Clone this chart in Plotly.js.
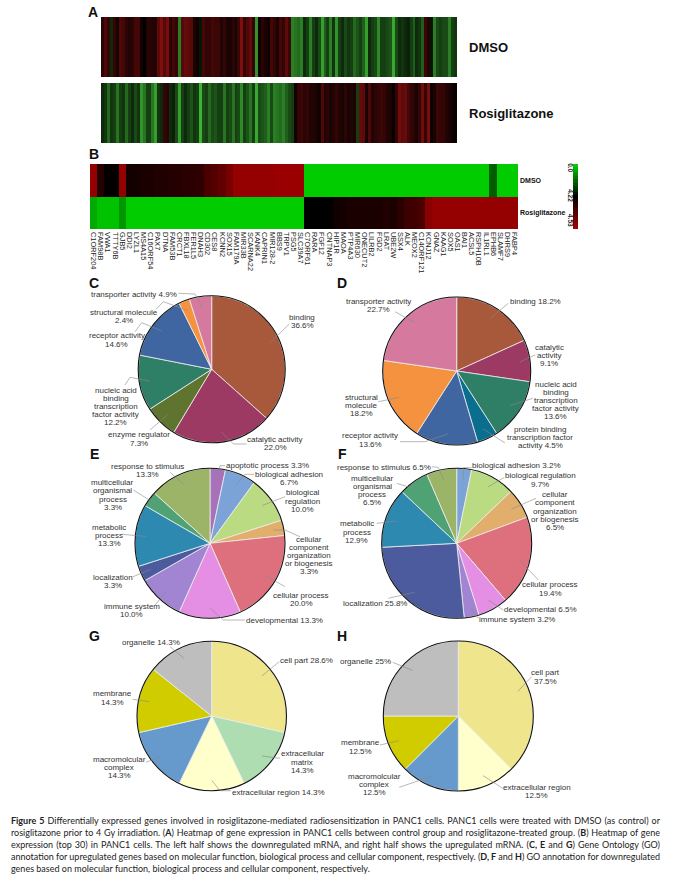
<!DOCTYPE html>
<html><head><meta charset="utf-8">
<script src="https://cdn.plot.ly/plotly-3.0.1.min.js"></script>
<style>html,body{margin:0;padding:0;background:#fff}#chart{width:675px;height:880px}</style>
</head><body><div id="chart"></div>
<script>
const W = 675, H = 880;
const FONT = 'Liberation Sans, Arial, sans-serif';

// ---- Panel A values (expression, green negative, red positive) ----
const heatA_dmso = [.25,.45,.3,-.2,.3,.15,.45,.4,.25,.2,.25,.4,.4,.1,0,.2,.25,.2,.2,.55,.75,.5,.7,.25,.4,.3,-.6,.5,.6,.55,.5,.15,.1,-.1,.4,.3,.3,.4,.35,.35,.2,.3,.15,.15,.25,.15,.35,.75,.3,.45,.6,.3,-.7,.1,.25,.15,.1,.4,.3,.15,.4,.3,.55,.35,-.6,
 -.55,-.5,-.6,-.2,-.3,-.6,-.3,-.2,-.35,-.75,-.45,-.3,-.6,-.25,-.7,-.3,-.2,-.35,-.25,-.3,-.5,-.4,-.3,-.45,-.75,-.2,-.3,-.35,-.65,-.3,-.3,-.35,-.4,-.8,-.35,-.2,-.25,-.2,-.15,-.3,-.45,-.2,-.25,-.45,.35,.2,-.1,-.6,-.35,-.3,-.35,-.35,-.6,-.3,-.25];
const heatA_rosi = [-.2,-.25,-.5,-.25,-.3,-.55,-.3,-.25,-.5,-.3,-.2,-.35,-.25,-.7,-.55,-.3,-.3,-.55,-.75,-.25,-.2,.3,.25,-.2,-.15,-.35,-.75,-.3,-.2,-.3,-.4,-.25,-.3,-.85,-.35,-.3,-.5,-.35,-.4,-.3,-.3,-.55,-.3,-.35,-.55,-.3,-.35,-.65,-.3,-.4,-.55,-.3,-.8,-.35,-.4,-.45,-.6,-.35,-.6,-.55,-.5,-.6,-.45,-.35,-.3,
 .1,.3,.35,.25,.3,.2,.2,.15,.1,.45,.2,.25,.15,.2,.3,.2,.15,.25,.15,.2,.15,-.3,.6,.55,.15,.45,.2,.25,.3,.35,.3,.2,.15,.05,.3,.65,.55,.6,.4,.3,.25,.15,.3,.65,.3,.7,.1,.15,.35,.3,.3,.2,.15,.1,.05];

// ---- Panel B values ----
const genes = ["C1ORF204","FAM98B","VWA1","TTTY6B","GJB5","DDI2","LYZL1","MS4A15","C16ORF54","PAX7","DTNA","FAM53B","CRCT1","FBXL18","FER1L5","DNAH3","CD302","CES8","KCNN2","SOX15","FAM179A","MIR33B","SCARNA22","KANK4","CAPRIN1","MIR128-2","BBS9","TRPV1","PSG5","SLC39A7","C7ORF61","RARA","FGF12","CNTNAP3","HIP1R","MAOA","PTP4A3","MIR630","ONECUT2","LILRB2","FGD2","LRAT","UBE2W","SSX4","ALK","MEOX2","C14ORF121","KCNJ12","GNAZ","KAAG1","SOX5","OAS1","BAI1","ACSL5","RSPH10B","IL1RL1","EPHB6","SLAMF7","DHRS9","FABP4"];
const heatB_dmso = [4.5,4.29,4.23,4.23,4.5,4.26,4.26,4.27,4.27,4.28,4.28,4.29,4.29,4.3,4.3,4.31,4.36,4.38,4.4,4.45,4.5,4.5,4.5,4.5,4.5,4.5,4.51,4.51,4.51,4.51,
 0,0,0,0,0,0,0,0,0,0,0,0,0,0,0,0,0,0,0,0,0,0,0,0,0,0,2.3,0,0,0];
const heatB_rosi = [.7,.2,.2,.2,1.1,0,0,0,0,0,0,0,0,0,0,0,0,0,0,0,0,0,0,0,0,0,0,0,0,0,
 4.22,4.22,4.22,4.22,4.25,4.26,4.27,4.27,4.27,4.27,4.27,4.28,4.27,4.3,4.33,4.34,4.36,4.48,4.5,4.5,4.5,4.5,4.5,4.5,4.5,4.5,4.5,4.5,4.5,4.5];
const legendLevels = [0,.42,.84,1.27,1.69,2.11,2.53,2.95,3.38,3.8,4.22,4.25,4.28,4.31,4.34,4.37,4.4,4.43,4.47,4.5,4.53];

// ---- Pie values ----
const pieC_labels = ["binding","catalytic activity","enzyme regulator","nucleic acid binding transcription factor activity","receptor activity","structural molecule","transporter activity"];
const pieC_values = [36.6,22.0,7.3,12.2,14.6,2.4,4.9];
const pieD_labels = ["binding","catalytic activity","nucleic acid binding transcription factor activity","protein binding transcription factor activity","receptor activity","structural molecule","transporter activity"];
const pieD_values = [18.2,9.1,13.6,4.5,13.6,18.2,22.7];
const pieE_labels = ["apoptotic process","biological adhesion","biological regulation","cellular component organization or biogenesis","cellular process","developmental","immune system","localization","metabolic process","multicellular organismal process","response to stimulus"];
const pieE_values = [3.3,6.7,10.0,3.3,20.0,13.3,10.0,3.3,13.3,3.3,13.3];
const pieF_labels = ["biological adhesion","biological regulation","cellular component organization or biogenesis","cellular process","developmental","immune system","localization","metabolic process","multicellular organismal process","response to stimulus"];
const pieF_values = [3.2,9.7,6.5,19.4,6.5,3.2,25.8,12.9,6.5,6.5];
const pieG_labels = ["cell part","extracellular matrix","extracellular region","macromolecular complex","membrane","organelle"];
const pieG_values = [28.6,14.3,14.3,14.3,14.3,14.3];
const pieH_labels = ["cell part","extracellular region","macromolecular complex","membrane","organelle"];
const pieH_values = [37.5,12.5,12.5,12.5,25];

// ---- Pie styling and label layout (pixels on the page) ----
const colC = ["#A8593C","#9C3A64","#5F752F","#2E7F66","#3F66A0","#F59240","#D6799F"];
const colD = ["#A8593C","#9C3A64","#2E7F66","#0A6F8E","#3F66A0","#F59240","#D6799F"];
const colE = ["#A772BA","#7CA3D8","#BBDB82","#E2AE6C","#DE6F7D","#E48EE4","#A285D2","#4C5A9E","#2E89B0","#4FA273","#9CB468"];
const colF = ["#7CA3D8","#BBDB82","#E2AE6C","#DE6F7D","#E48EE4","#A285D2","#4C5A9E","#2E89B0","#4FA273","#9CB468"];
const colG = ["#EEE58C","#ADDDB0","#FFFFCC","#6699CC","#D0CC00","#BEBEBE"];
const colH = ["#EEE58C","#FFFFCC","#6699CC","#D0CC00","#BEBEBE"];

const pies = [
 {v:pieC_values,l:pieC_labels,c:colC,cx:211.7,cy:369.3,r:73.5,
  t:[["binding<br>36.6%",302.3,321.7,[[289.3,324]]],
     ["catalytic activity<br>22.0%",275,443.3,[[233.3,444],[246.7,444]]],
     ["enzyme regulator<br>7.3%",139,439,[[150,430]]],
     ["nucleic acid<br>binding<br>transcription<br>factor activity<br>12.2%",115.7,406.7,[[130,377.3],[125,385]]],
     ["receptor activity<br>14.6%",116.7,340,[[141.7,322.7],[135,331.7]]],
     ["structural molecule<br>2.4%",124,316.7,[[163.3,301.7],[156,309.3]]],
     ["transporter activity 4.9%",134.3,294,[[195,294],[178.3,293.3]]]]},
 {v:pieD_values,l:pieD_labels,c:colD,cx:456.7,cy:371,r:74,
  t:[["binding 18.2%",535.3,301.7,[[508.3,303.3]]],
     ["catalytic<br>activity<br>9.1%",549,355.3,[[535,355]]],
     ["nucleic acid<br>binding<br>transcription<br>factor activity<br>13.6%",555.7,400.3,[[532.7,398.3]]],
     ["protein binding<br>transcription factor<br>activity 4.5%",540,437.3,[[505,443]]],
     ["receptor activity<br>13.6%",370,440,[[425,441.7],[400,441.7]]],
     ["structural<br>molecule<br>18.2%",361.7,405.3,[[378.3,401.7]]],
     ["transporter activity<br>22.7%",378.3,305.7,[[395,311.7]]]]},
 {v:pieE_values,l:pieE_labels,c:colE,cx:210,cy:543.3,r:75,
  t:[["apoptotic process 3.3%",267.7,465.3,[[220,465.7],[225,465.7]]],
     ["biological adhesion<br>6.7%",289.3,478.3,[[245,474.3],[254,474.3]]],
     ["biological<br>regulation<br>10.0%",302.7,501,[[285,496.7]]],
     ["cellular<br>component<br>organization<br>or biogenesis<br>3.3%",309.3,555.7,[[285,530],[300,536.7]]],
     ["cellular process<br>20.0%",301.3,599.7,[[285,586.7]]],
     ["developmental 13.3%",284,620,[[223.3,620],[245,620]]],
     ["immune system<br>10.0%",131.7,610.7,[[155,605]]],
     ["localization<br>3.3%",112.7,581.7,[[133,576.7]]],
     ["metabolic<br>process<br>13.3%",109,535.7,[[121.7,534.3]]],
     ["multicellular<br>organismal<br>process<br>3.3%",112.7,495,[[133.3,490]]],
     ["response to stimulus<br>13.3%",147.3,470.7,[[170,472.3]]]]},
 {v:pieF_values,l:pieF_labels,c:colF,cx:456.7,cy:543.3,r:75,
  t:[["biological adhesion 3.2%",516,465.3,[[463.3,467.7],[471.7,467.7]]],
     ["biological regulation<br>9.7%",540.3,480,[[504,477.7]]],
     ["cellular<br>component<br>organization<br>or biogenesis<br>6.5%",555,511,[[536,498.3]]],
     ["cellular process<br>19.4%",550,589,[[538.3,580]]],
     ["developmental 6.5%",540,609.3,[[503.3,610]]],
     ["immune system 3.2%",517.3,619,[[478.3,618.3]]],
     ["localization 25.8%",375,603.7,[[388.3,598.3]]],
     ["metabolic<br>process<br>12.9%",356.7,532,[[376.7,523.3]]],
     ["multicellular<br>organismal<br>process<br>6.5%",372.3,490.7,[[396.7,483.3]]],
     ["response to stimulus 6.5%",384,467.3,[[438.3,467.3],[431.7,466.7]]]]},
 {v:pieG_values,l:pieG_labels,c:colG,cx:211.7,cy:716,r:74.7,
  t:[["cell part 28.6%",306,660.7,[[279.3,661.7]]],
     ["extracellular<br>matrix<br>14.3%",302.3,762,[[280,758.3]]],
     ["extracellular region 14.3%",278,792.3,[[220,790.7],[231,790.7]]],
     ["macromolcular<br>complex<br>14.3%",119.3,767.7,[[146,762.3]]],
     ["membrane<br>14.3%",112.7,698,[[132.7,699.3]]],
     ["organelle 14.3%",151,642.3,[[170,646.7]]]]},
 {v:pieH_values,l:pieH_labels,c:colH,cx:458.3,cy:716,r:75,
  t:[["cell part<br>37.5%",545.7,677,[[531.7,676.7]]],
     ["extracellular region<br>12.5%",536.7,791.7,[[502.7,788.3]]],
     ["macromolcular<br>complex<br>12.5%",374.3,784.3,[[399.3,787.3]]],
     ["membrane<br>12.5%",360,747,[[380,745]]],
     ["organelle 25%",365,661.7,[[392.7,662.3]]]]}
];

const panelLetters = [["A",93,12],["B",94,154],["C",94,283],["D",342,283],["E",94,454],["F",342,454],["G",94,636],["H",342,636]];

const captionLines = [
 "<b>Figure 5</b> Differentially expressed genes involved in rosiglitazone-mediated radiosensitization in PANC1 cells. PANC1 cells were treated with DMSO (as control) or",
 "rosiglitazone prior to 4 Gy irradiation. (<b>A</b>) Heatmap of gene expression in PANC1 cells between control group and rosiglitazone-treated group. (<b>B</b>) Heatmap of gene",
 "expression (top 30) in PANC1 cells. The left half shows the downregulated mRNA, and right half shows the upregulated mRNA. (<b>C, E</b> and <b>G</b>) Gene Ontology (GO)",
 "annotation for upregulated genes based on molecular function, biological process and cellular component, respectively. (<b>D, F</b> and <b>H</b>) GO annotation for downregulated",
 "genes based on molecular function, biological process and cellular component, respectively."
];

const px = x => x / W, py = y => 1 - y / H;
const idx = a => a.map((_, i) => i);

const scaleA = [[0,'rgb(70,210,60)'],[.5,'rgb(0,0,0)'],[1,'rgb(170,18,18)']];
const scaleB = [[0,'rgb(0,204,0)'],[4.22/4.53,'rgb(0,0,0)'],[1,'rgb(165,0,0)']];

const data = [];
const hm = {type:'heatmap',showscale:false,hoverinfo:'skip'};
data.push({...hm,z:[heatA_dmso],x:idx(heatA_dmso),y:['DMSO'],colorscale:scaleA,zmin:-1,zmax:1,xaxis:'x',yaxis:'y'});
data.push({...hm,z:[heatA_rosi],x:idx(heatA_rosi),y:['Rosiglitazone'],colorscale:scaleA,zmin:-1,zmax:1,xaxis:'x2',yaxis:'y2'});
data.push({...hm,z:[heatB_dmso,heatB_rosi],x:genes,y:['DMSO','Rosiglitazone'],colorscale:scaleB,zmin:0,zmax:4.53,xaxis:'x3',yaxis:'y3'});
data.push({...hm,z:legendLevels.map(v=>[v]),x:['scale'],y:idx(legendLevels),colorscale:scaleB,zmin:0,zmax:4.53,xaxis:'x4',yaxis:'y4'});

const shapes = [], annotations = [];
const lbl = (t,x,y,o={}) => annotations.push(Object.assign({text:t,xref:'paper',yref:'paper',x:px(x),y:py(y),xanchor:'center',yanchor:'middle',align:'center',showarrow:false,font:{family:FONT,size:8,color:'#333'}},o));
const LINE_PITCH = 8.1;
const multiLine = (t,x,y) => { const parts = t.split('<br>'); parts.forEach((s,i) => lbl(s,x,y+(i-(parts.length-1)/2)*LINE_PITCH)); };

pies.forEach(p => {
  const dom = {x:[px(p.cx-p.r),px(p.cx+p.r)],y:[py(p.cy+p.r),py(p.cy-p.r)]};
  data.push({type:'pie',values:p.v,labels:p.l,sort:false,direction:'clockwise',rotation:0,textinfo:'none',hoverinfo:'label+percent',showlegend:false,domain:dom,automargin:false,
    marker:{colors:p.c,line:{color:'#eeeeee',width:0.8}}});
  data.push({type:'pie',values:[1],labels:['outline'],sort:false,textinfo:'none',hoverinfo:'skip',showlegend:false,domain:dom,
    marker:{colors:['rgba(0,0,0,0)'],line:{color:'#111',width:1.1}}});
  const total = p.v.reduce((a,b)=>a+b,0);
  let acc = 0;
  p.t.forEach((t,i) => {
    const a = (acc + p.v[i]/2)/total*2*Math.PI; acc += p.v[i];
    let d = `M${px(p.cx+Math.sin(a)*p.r*.86)} ${py(p.cy-Math.cos(a)*p.r*.86)}`;
    t[3].forEach(q => d += ` L${px(q[0])} ${py(q[1])}`);
    shapes.push({type:'path',xref:'paper',yref:'paper',path:d,layer:'above',line:{color:'#888',width:.6}});
    multiLine(t[0],t[1],t[2]);
  });
});

panelLetters.forEach(l => lbl(`<b>${l[0]}</b>`,l[1],l[2],{font:{family:FONT,size:14,color:'#111'}}));
captionLines.forEach((t,i) => lbl(t,9,820.5+i*12,{xanchor:'left',align:'left',font:{family:'Lato, sans-serif',size:9,color:'#222'}}));

const hidden = {visible:false,fixedrange:true};
const rowFont = {family:FONT,size:13,color:'#111',weight:'bold'};
const layout = {
  width:W,height:H,margin:{l:0,r:0,t:0,b:0},paper_bgcolor:'#fff',plot_bgcolor:'#fff',showlegend:false,
  shapes,annotations,
  xaxis:{...hidden,anchor:'y',domain:[px(101),px(457)]},
  yaxis:{anchor:'x',side:'right',domain:[py(77),py(17)],showgrid:false,zeroline:false,ticks:'',ticklabelstandoff:11,tickfont:rowFont},
  xaxis2:{...hidden,anchor:'y2',domain:[px(101),px(457)]},
  yaxis2:{anchor:'x2',side:'right',domain:[py(143),py(83)],showgrid:false,zeroline:false,ticks:'',ticklabelstandoff:11,tickfont:rowFont},
  xaxis3:{anchor:'y3',domain:[px(90),px(518)],tickangle:90,ticks:'',showgrid:false,zeroline:false,tickmode:'array',tickvals:genes,ticktext:genes,ticklabelstandoff:2,tickfont:{family:FONT,size:7.4,color:'#222'}},
  yaxis3:{anchor:'x3',side:'right',domain:[py(229),py(164)],autorange:'reversed',showgrid:false,zeroline:false,ticks:'',ticklabelstandoff:1,tickfont:{family:FONT,size:7,color:'#111',weight:'bold'}},
  xaxis4:{...hidden,anchor:'y4',domain:[px(573),px(578)]},
  yaxis4:{anchor:'x4',side:'left',domain:[py(229),py(164)],autorange:'reversed',showgrid:false,zeroline:false,ticks:'',tickmode:'array',tickvals:[1,10,18],ticktext:['0.0','4.22','4.53'],tickangle:90,ticklabelstandoff:-3,tickfont:{family:FONT,size:6.5,color:'#222',weight:'bold'}}
};

Plotly.newPlot('chart',data,layout,{displayModeBar:false,staticPlot:false}).then(gd => {
  // justify the first four caption lines by widening the word gaps
  const right = 658, left = 9;
  gd.querySelectorAll('.annotation-text').forEach(n => {
    const s = n.textContent;
    const line = captionLines.findIndex(c => c.replace(/<[^>]+>/g,'') === s);
    if (line < 0 || line > 3) return;
    const gaps = (s.match(/ /g) || []).length;
    const extra = (right - left - n.getComputedTextLength()) / gaps;
    n.style.wordSpacing = extra + 'px';
  });
});
</script></body></html>
